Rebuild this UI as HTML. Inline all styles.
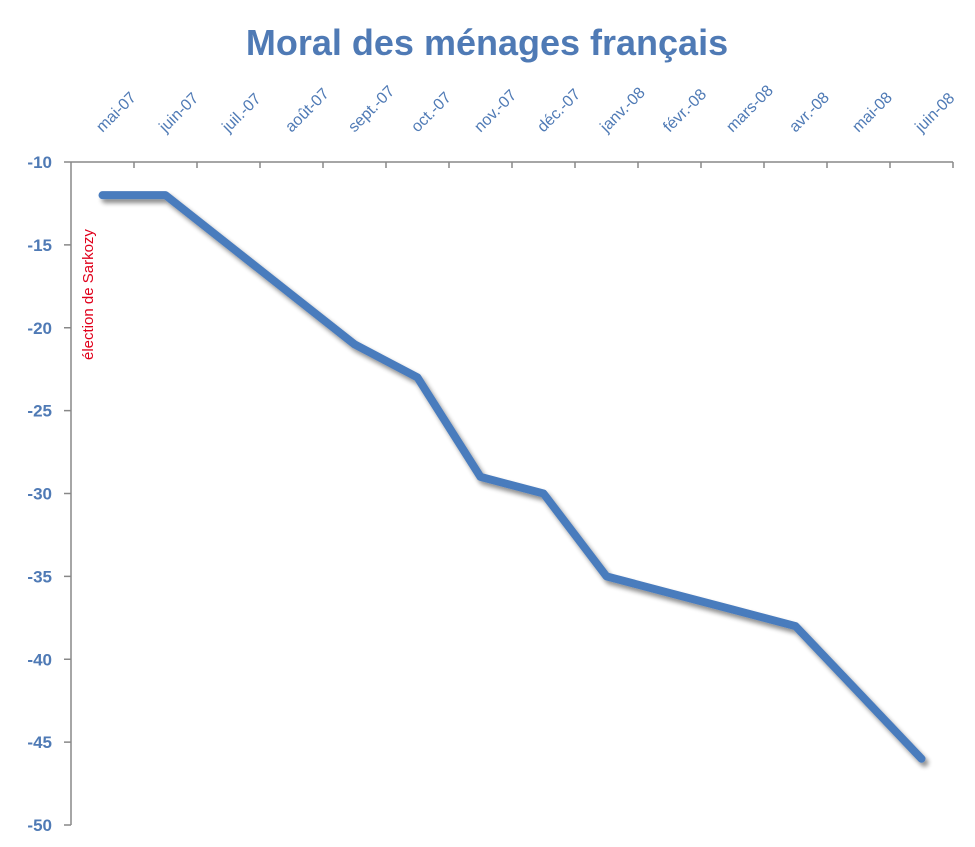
<!DOCTYPE html>
<html><head><meta charset="utf-8"><style>
body{margin:0;background:#fff;}
svg{display:block;font-family:"Liberation Sans",sans-serif;}
</style></head><body>
<svg width="975" height="847" viewBox="0 0 975 847">
<defs><filter id="sh" x="-10%" y="-10%" width="120%" height="120%"><feGaussianBlur in="SourceAlpha" stdDeviation="2.5"/><feOffset dx="3" dy="4"/><feComponentTransfer><feFuncA type="linear" slope="0.45"/></feComponentTransfer><feMerge><feMergeNode/><feMergeNode in="SourceGraphic"/></feMerge></filter></defs>
<text x="487" y="55" text-anchor="middle" font-size="36" font-weight="bold" fill="#4f7ab5">Moral des ménages français</text>
<g id="axes"></g>
<g id="plot"></g>
<text transform="translate(93,360) rotate(-90)" font-size="15" fill="#e0001b">élection de Sarkozy</text>
</svg>
<script>
const categories=["mai-07","juin-07","juil.-07","août-07","sept.-07","oct.-07","nov.-07","déc.-07","janv.-08","févr.-08","mars-08","avr.-08","mai-08","juin-08"];
const values=[-12,-12,-15,-18,-21,-23,-29,-30,-35,-36,-37,-38,-42,-46];
const yTicks=[-10,-15,-20,-25,-30,-35,-40,-45,-50];
const NS="http://www.w3.org/2000/svg";
const x0=71,step=63,yTop=162,yBot=825,yMax=-10,yMin=-50;
const xc=i=>x0+step*(i+0.5);
const y=v=>yTop+(yMax-v)/(yMax-yMin)*(yBot-yTop);
const axes=document.getElementById('axes'),plot=document.getElementById('plot');
function mk(t,a,p){const e=document.createElementNS(NS,t);for(const k in a)e.setAttribute(k,a[k]);p.appendChild(e);return e;}
let l=mk('line',{x1:x0,y1:yTop,x2:x0,y2:yBot,stroke:'#888','stroke-width':1.5},axes);


l=mk('line',{x1:x0,y1:yTop,x2:x0+step*categories.length,y2:yTop,stroke:'#888','stroke-width':1.5},axes);


yTicks.forEach(v=>{
 const t=mk('line',{x1:x0-7,y1:y(v),x2:x0,y2:y(v),stroke:'#888','stroke-width':1.5},axes);
 
 
 const tx=mk('text',{x:52,y:y(v)+6,'text-anchor':'end','font-size':17,'font-weight':'bold',fill:'#4f7ab5'},axes);
 tx.textContent=v;
 
 
});
categories.forEach((c,i)=>{
 const t=mk('line',{x1:x0+step*(i+1),y1:yTop,x2:x0+step*(i+1),y2:yTop+6,stroke:'#888','stroke-width':1.5},axes);
 
 
 const tx=mk('text',{transform:`translate(${xc(i)},133) rotate(-45)`,'font-size':16,fill:'#4f7ab5'},axes);
 tx.textContent=c;
 
 
});
const pl=mk('polyline',{points:values.map((v,i)=>xc(i)+','+y(v)).join(' '),fill:'none',stroke:'#4a7bbd','stroke-width':8,'stroke-linejoin':'round','stroke-linecap':'round',filter:'url(#sh)'},plot);


</script>
</body></html>
